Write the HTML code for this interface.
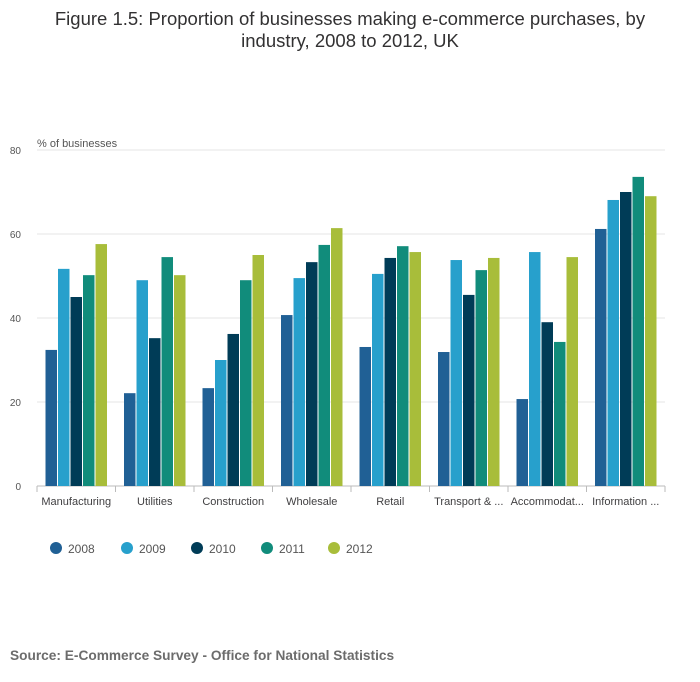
<!DOCTYPE html>
<html><head><meta charset="utf-8"><style>
body{margin:0;background:#fff;font-family:"Liberation Sans","DejaVu Sans",sans-serif;}
#wrap{position:relative;width:700px;height:682px;overflow:hidden;}
</style></head><body>
<div id="wrap">
<svg id="chart" width="700" height="682">
<text x="350" y="25" text-anchor="middle" font-size="18.5" fill="#323132">Figure 1.5: Proportion of businesses making e-commerce purchases, by</text>
<text x="350" y="47" text-anchor="middle" font-size="18.5" fill="#323132">industry, 2008 to 2012, UK</text>
<text x="37" y="147" font-size="11" fill="#555">% of businesses</text>
<g id="grid"></g><g id="bars"></g><g id="xaxis"></g><g id="legend"></g>
<text x="10" y="660" font-size="13.7" font-weight="bold" fill="#6c6c6c">Source: E-Commerce Survey - Office for National Statistics</text>
</svg>
</div>
<script>
const categories=["Manufacturing","Utilities","Construction","Wholesale","Retail","Transport & ...","Accommodat...","Information ..."];
const seriesNames=["2008","2009","2010","2011","2012"];
const s2008=[32.4,22.1,23.3,40.7,33.1,31.9,20.7,61.2];
const s2009=[51.7,49.0,30.0,49.5,50.5,53.8,55.7,68.1];
const s2010=[45.0,35.2,36.2,53.3,54.3,45.5,39.0,70.0];
const s2011=[50.2,54.5,49.0,57.4,57.1,51.4,34.3,73.6];
const s2012=[57.6,50.2,55.0,61.4,55.7,54.3,54.5,69.0];
const yTicks=[0,20,40,60,80];
const colors=["#206095","#27a0cc","#003c57","#118c7b","#a8bd3a"];
const series=[s2008,s2009,s2010,s2011,s2012];
const NS="http://www.w3.org/2000/svg";
const x0=37,x1=665,y0=486,yTop=150,ymax=80;
const cw=(x1-x0)/categories.length;
function y(v){return y0-(v/ymax)*(y0-yTop);}
function mk(t,a,p){const e=document.createElementNS(NS,t);for(const k in a)e.setAttribute(k,a[k]);p.appendChild(e);return e;}
const grid=document.getElementById('grid');
yTicks.forEach(t=>{
 const l=mk('line',{x1:x0,x2:x1,y1:y(t),y2:y(t),stroke:t===0?'#bbb':'#e6e6e6','stroke-width':1},grid);
 
 
 const tx=mk('text',{x:21,y:y(t)+4,'text-anchor':'end','font-size':10,fill:'#555'},grid);
 tx.textContent=t;
 
 
});
const bars=document.getElementById('bars');
const pad=8,bw=(cw-2*pad)/5;
categories.forEach((c,i)=>{
 series.forEach((s,j)=>{
  const bx=x0+i*cw+pad+j*bw;
  const r=mk('rect',{x:bx+0.5,y:y(s[i]),width:bw-1,height:y0-y(s[i]),fill:colors[j]},bars);
  
  
 });
});
const xa=document.getElementById('xaxis');
for(let i=0;i<=categories.length;i++){
 const tk=mk('line',{x1:x0+i*cw,x2:x0+i*cw,y1:y0,y2:y0+6,stroke:'#bbb'},xa);
 
 
}
categories.forEach((c,i)=>{
 const t=mk('text',{x:x0+i*cw+cw/2,y:505,'text-anchor':'middle','font-size':11,fill:'#414042'},xa);
 t.textContent=c;
 
 
});
const lg=document.getElementById('legend');
const lx=[56,127,197,267,334];
seriesNames.forEach((n,j)=>{
 const c=mk('circle',{cx:lx[j],cy:548,r:6,fill:colors[j]},lg);
 
 
 const t=mk('text',{x:lx[j]+12,y:553,'font-size':12,fill:'#555'},lg);
 t.textContent=n;
 
 
});
</script>
</body></html>
